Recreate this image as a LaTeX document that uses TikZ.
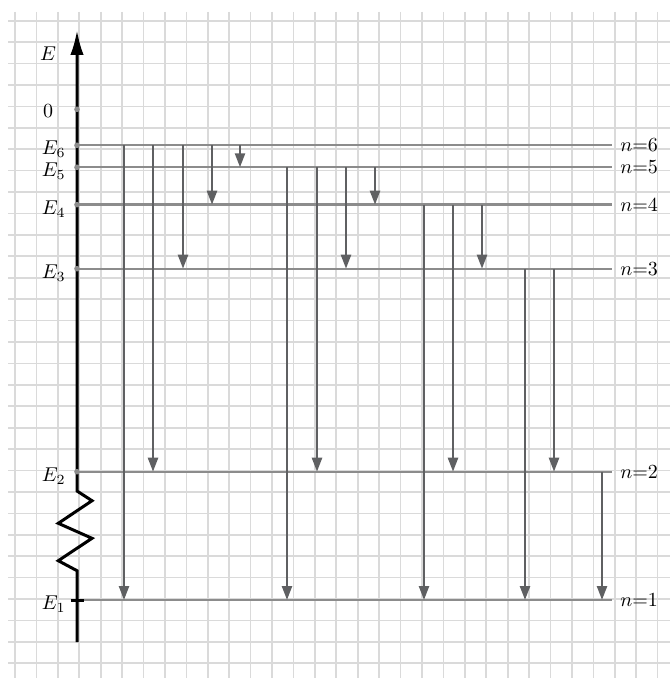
\documentclass[tikz,border=0pt]{standalone}
\usetikzlibrary{arrows.meta}
\definecolor{gridgray}{HTML}{DADADA}
\definecolor{levgray}{HTML}{8C8C8C}
\definecolor{trgray}{HTML}{5F6062}
\begin{document}
\begin{tikzpicture}[x=0.5pt, y=-0.5pt,
  gridline/.style={draw=gridgray,line width=0.85pt},
  level/.style={draw=levgray,line width=1.2pt},
  trans/.style={draw=trgray,line width=1.2pt,-{Triangle[length=7pt,width=5pt]}},
  axisline/.style={draw=black,line width=1.5pt},
  dot/.style={circle,fill=levgray,inner sep=0pt,minimum size=2.8pt},
  elab/.style={anchor=east,inner sep=0pt},
  nlab/.style={anchor=west,inner sep=4pt}]
\useasboundingbox (0,0) rectangle (670,678);
% grid paper
\foreach \i in {0,...,30} {
  \draw[gridline] ({15+\i*21.42},12) -- ({15+\i*21.42},678);
  \draw[gridline] (8,{20.7+\i*21.42}) -- (670,{20.7+\i*21.42});
}
% levels
\coordinate (L0) at (77,109.3);
\coordinate (L6) at (77,145.3);
\coordinate (L5) at (77,167.3);
\coordinate (L4) at (77,204.7);
\coordinate (L3) at (77,268.7);
\coordinate (L2) at (77,471.7);
\coordinate (L1) at (77,600);
\node[nlab] (n6) at (612,145.3) {$n{=}6$};
\node[nlab] (n5) at (612,167.3) {$n{=}5$};
\node[nlab] (n4) at (612,204.7) {$n{=}4$};
\node[nlab] (n3) at (612,268.7) {$n{=}3$};
\node[nlab] (n2) at (612,471.7) {$n{=}2$};
\node[nlab] (n1) at (612,600) {$n{=}1$};
\foreach \k in {1,...,6} \draw[level] (L\k) -- (n\k.west);
% transitions
\foreach \x/\u/\l in {124/6/1,153/6/2,183/6/3,212/6/4,240/6/5,287/5/1,317/5/2,346/5/3,375/5/4,
  424/4/1,453/4/2,482/4/3,525/3/1,554/3/2,602/2/1}
  \draw[trans] (\x,0 |- L\u) -- (\x,0 |- L\l);
% energy axis with break
\coordinate (ax0) at (77,642);
\coordinate (axtop) at (77,30);
\draw[axisline,-{Latex[length=12.5pt,width=6.7pt]}] (ax0) -- (77,570.7) -- (58.3,560.7) -- (92,538.3)
  -- (58.3,523.3) -- (92,500.7) -- (77,491) -- (axtop);
\draw[axisline] (70.7,600) -- (84,600);
\foreach \k in {0,2,3,4,5,6} \node[dot] (d\k) at (L\k) {};
% axis labels
\node (lE) at (48,54) {$E$};
\node (l0) at (48,111) {$0$};
\node[elab] (e6) at (66,149.3) {$E_6$};
\node[elab] (e5) at (66,171.3) {$E_5$};
\node[elab] (e4) at (66,208.7) {$E_4$};
\node[elab] (e3) at (66,272.7) {$E_3$};
\node[elab] (e2) at (66,475.7) {$E_2$};
\node[elab] (e1) at (66,604) {$E_1$};
\end{tikzpicture}
\end{document}
